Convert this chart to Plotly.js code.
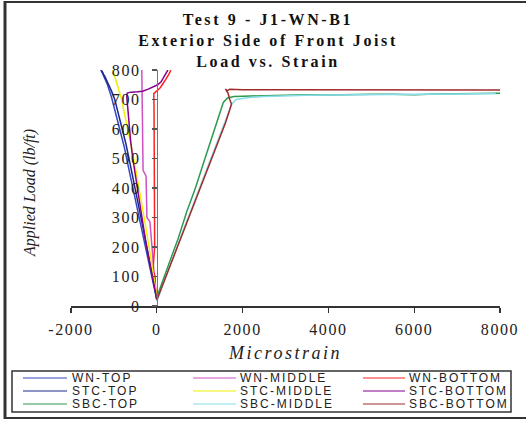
<!DOCTYPE html>
<html>
<head>
<meta charset="utf-8">
<script src="https://cdn.plot.ly/plotly-3.0.1.min.js"></script>
<style>
  html, body { margin: 0; padding: 0; background: #ffffff; }
  #chart { width: 526px; height: 421px; }
  .gtitle { letter-spacing: 2.6px; }
  .xtitle { letter-spacing: 2.5px; }
  .xtick text, .ytick text { letter-spacing: 1.6px; }
</style>
</head>
<body>
<div id="chart"></div>
<script>
// ---------- data ----------
const seriesNames = ["WN-TOP", "WN-MIDDLE", "WN-BOTTOM",
                     "STC-TOP", "STC-MIDDLE", "STC-BOTTOM",
                     "SBC-TOP", "SBC-MIDDLE", "SBC-BOTTOM"];
const seriesColors = ["#3848c0", "#d050c0", "#ff2020",
                      "#1c2a8c", "#f0f000", "#880088",
                      "#2e9a50", "#88dcec", "#a02c2c"];

const wnTopX = [0, -60, -150, -250, -350, -450, -560, -660, -760, -860, -960, -1060, -1150, -1230, -1300];
const wnTopY = [20, 60, 120, 190, 260, 330, 400, 470, 540, 600, 660, 710, 750, 780, 800];

const wnMidX = [0, -50, -90, -110, -130, -160, -230, -240, -250, -320, -330, -340, -350, -350];
const wnMidY = [25, 80, 160, 200, 250, 285, 300, 400, 440, 460, 550, 650, 720, 800];

const wnBotX = [0, -30, -40, -90, -50, -50, -55, -60, -60, -65, -70, 0, 80, 150, 220, 280, 330];
const wnBotY = [20, 60, 100, 122, 200, 300, 400, 500, 600, 680, 720, 730, 740, 755, 770, 785, 800];

const stcTopX = [0, -50, -130, -220, -320, -420, -520, -620, -720, -820, -900, -980, -1060, -1150, -1100, -1220, -1180, -1300, -1250];
const stcTopY = [25, 60, 120, 190, 265, 340, 410, 480, 550, 610, 660, 700, 730, 760, 740, 780, 770, 800, 790];

const stcMidX = [0, -40, -100, -180, -260, -340, -420, -500, -580, -660, -740, -820, -900, -970, -1030];
const stcMidY = [30, 70, 130, 200, 270, 340, 410, 470, 530, 590, 650, 700, 740, 770, 800];

const stcBotX = [0, -80, -170, -260, -350, -430, -500, -560, -610, -650, -680, -700, -690, -600, -450, -330, -200, -80, 20, 100, 170, 220, 260];
const stcBotY = [25, 80, 150, 220, 300, 370, 440, 500, 560, 620, 670, 710, 722, 725, 726, 728, 735, 742, 750, 760, 775, 790, 800];

const sbcTopX = [0, 100, 300, 500, 700, 900, 1100, 1300, 1450, 1550, 1650, 1800, 2200, 2600, 3000, 3500, 4000, 4500, 5000, 5500, 6000, 6500, 7000, 7500, 8000];
const sbcTopY = [30, 70, 150, 230, 320, 400, 490, 580, 650, 690, 705, 710, 712, 714, 714, 716, 715, 717, 718, 718, 716, 719, 719, 720, 721];

const sbcMidX = [0, 200, 400, 600, 800, 1000, 1200, 1400, 1600, 1750, 1850, 2100, 2500, 3000, 3500, 4000, 4500, 5000, 6000, 7000, 7900];
const sbcMidY = [15, 95, 170, 250, 325, 400, 475, 555, 630, 685, 700, 706, 710, 713, 714, 715, 716, 717, 718, 719, 720];

const sbcBotX = [0, 200, 400, 600, 800, 1000, 1200, 1400, 1600, 1700, 1740, 1700, 1660, 1600, 1650, 1700, 2000, 3000, 4000, 5000, 6000, 7000, 8000];
const sbcBotY = [20, 95, 170, 245, 320, 395, 470, 545, 620, 665, 685, 700, 722, 735, 730, 735, 733, 733, 733, 733, 733, 733, 732];

const seriesX = [wnTopX, wnMidX, wnBotX, stcTopX, stcMidX, stcBotX, sbcTopX, sbcMidX, sbcBotX];
const seriesY = [wnTopY, wnMidY, wnBotY, stcTopY, stcMidY, stcBotY, sbcTopY, sbcMidY, sbcBotY];

const xTickVals = [-2000, 0, 2000, 4000, 6000, 8000];
const xTickText = ["-2000", "0", "2000", "4000", "6000", "8000"];
const yTickVals = [0, 100, 200, 300, 400, 500, 600, 700, 800];
const yTickText = ["0", "100", "200", "300", "400", "500", "600", "700", "800"];

const titleText = "Test 9 - J1-WN-B1<br>Exterior Side of Front Joist<br>Load vs. Strain";
const xTitle = "Microstrain";
const yTitle = "Applied Load (lb/ft)";

// ---------- layout geometry (pixels) ----------
const W = 526, H = 421;
const ML = 71, MR = 26, MT = 70, MB = 115;
const PW = W - ML - MR, PH = H - MT - MB;
const pxX = p => (p - ML) / PW;          // pixel -> paper x
const pxY = p => (MT + PH - p) / PH;     // pixel -> paper y

const traces = seriesNames.map((name, i) => ({
  type: "scatter",
  mode: "lines",
  name: name,
  x: seriesX[i],
  y: seriesY[i],
  line: { color: seriesColors[i], width: 1.5 },
  showlegend: false,
  hoverinfo: "skip"
}));

// ---------- manual compact legend (3 x 3) ----------
const legCols = [{ l0: 23, l1: 67, t: 70 }, { l0: 193, l1: 236, t: 238 }, { l0: 363, l1: 405, t: 407 }];
const legRows = [378, 391, 404];
const shapes = [];
const annotations = [];
seriesNames.forEach((name, i) => {
  const c = legCols[i % 3], r = legRows[Math.floor(i / 3)];
  shapes.push({ type: "line", xref: "paper", yref: "paper",
    x0: pxX(c.l0), x1: pxX(c.l1), y0: pxY(r), y1: pxY(r),
    line: { color: seriesColors[i], width: 1.2 } });
  annotations.push({ xref: "paper", yref: "paper", x: pxX(c.t), y: pxY(r),
    xanchor: "left", yanchor: "middle", showarrow: false,
    text: '<span style="letter-spacing:2px">' + name + '</span>',
    font: { family: "Liberation Sans", size: 12, color: "#222" } });
});
// legend box
shapes.push({ type: "rect", xref: "paper", yref: "paper",
  x0: pxX(12), x1: pxX(511), y0: pxY(371), y1: pxY(412),
  line: { color: "#333", width: 1.5 }, fillcolor: "rgba(0,0,0,0)" });
// outer frame
shapes.push({ type: "line", xref: "paper", yref: "paper",
  x0: pxX(5), x1: pxX(5), y0: pxY(1), y1: pxY(419), line: { color: "#333", width: 3 } });
shapes.push({ type: "line", xref: "paper", yref: "paper",
  x0: pxX(5), x1: pxX(526), y0: pxY(2), y1: pxY(2), line: { color: "#333", width: 2 } });
shapes.push({ type: "line", xref: "paper", yref: "paper",
  x0: pxX(5), x1: pxX(526), y0: pxY(418), y1: pxY(418), line: { color: "#333", width: 2 } });

// y-axis title as annotation
annotations.push({ xref: "paper", yref: "paper", x: pxX(30), y: pxY(193),
  xanchor: "center", yanchor: "middle", showarrow: false, textangle: -90, text: yTitle,
  font: { family: "Liberation Serif", size: 16, style: "italic", color: "#222" } });

const layout = {
  width: W, height: H,
  margin: { l: ML, r: MR, t: MT, b: MB, pad: 0 },
  paper_bgcolor: "#ffffff",
  plot_bgcolor: "#ffffff",
  showlegend: false,
  title: {
    text: titleText,
    font: { family: "Liberation Serif", size: 16, weight: "bold", color: "#111" },
    xref: "container", x: 268 / W, xanchor: "center",
    yref: "container", y: 1 - 25 / H, yanchor: "top"
  },
  xaxis: {
    range: [-2000, 8000],
    tickvals: xTickVals, ticktext: xTickText,
    ticks: "outside", ticklen: 5, tickwidth: 1.2, tickcolor: "#333",
    showline: true, linecolor: "#333", linewidth: 1.5,
    showgrid: false, zeroline: false,
    ticklabelstandoff: 3,
    tickfont: { family: "Liberation Serif", size: 16, color: "#222" },
    title: { text: xTitle, standoff: 9,
      font: { family: "Liberation Serif", size: 18, style: "italic", color: "#222" } }
  },
  yaxis: {
    range: [0, 800],
    tickvals: yTickVals, ticktext: yTickText,
    anchor: "free", position: 0.2,
    ticks: "outside", ticklen: 5, tickwidth: 1.2, tickcolor: "#555",
    showline: true, linecolor: "#777", linewidth: 1.5,
    showgrid: false, zeroline: false,
    ticklabelstandoff: 8,
    tickfont: { family: "Liberation Serif", size: 16, color: "#222" }
  },
  shapes: shapes,
  annotations: annotations
};

Plotly.newPlot("chart", traces, layout, { displayModeBar: false, staticPlot: true });
</script>
</body>
</html>
